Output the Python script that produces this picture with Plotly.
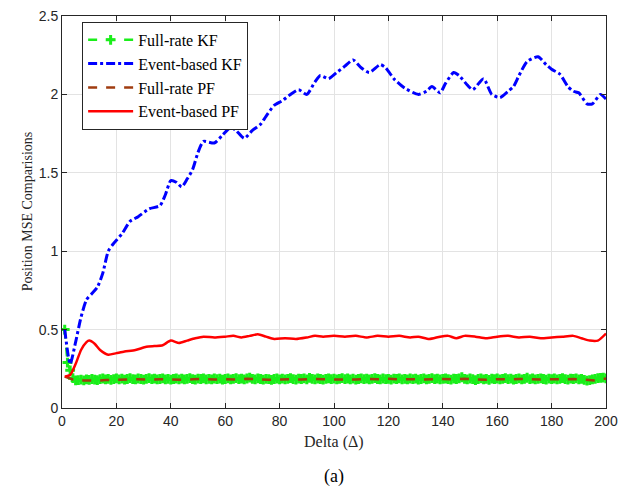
import plotly.graph_objects as go

# ---- data ----
x_fkf = list(range(1, 201))
y_fkf = [
    0.50, 0.29, 0.24, 0.19, 0.176, 0.178, 0.181, 0.176, 0.183, 0.179, 0.185, 0.181, 0.178, 0.184, 0.188, 0.182, 0.186, 0.180, 0.184, 0.189,
    0.183, 0.187, 0.181, 0.185, 0.190, 0.184, 0.182, 0.188, 0.185, 0.181, 0.186, 0.190, 0.184, 0.187, 0.182, 0.185, 0.189, 0.183, 0.186, 0.181,
    0.185, 0.188, 0.183, 0.187, 0.182, 0.186, 0.190, 0.184, 0.181, 0.187, 0.185, 0.189, 0.183, 0.186, 0.182, 0.188, 0.184, 0.187, 0.181, 0.185,
    0.189, 0.183, 0.186, 0.190, 0.184, 0.187, 0.182, 0.188, 0.194, 0.186, 0.183, 0.189, 0.185, 0.181, 0.186, 0.184, 0.179, 0.185, 0.188, 0.183,
    0.187, 0.182, 0.186, 0.190, 0.184, 0.181, 0.187, 0.185, 0.189, 0.183, 0.192, 0.186, 0.182, 0.188, 0.185, 0.181, 0.186, 0.189, 0.184, 0.187,
    0.182, 0.186, 0.190, 0.184, 0.188, 0.183, 0.187, 0.181, 0.185, 0.189, 0.184, 0.187, 0.182, 0.186, 0.190, 0.185, 0.183, 0.188, 0.184, 0.186,
    0.181, 0.187, 0.185, 0.189, 0.183, 0.186, 0.182, 0.188, 0.184, 0.187, 0.181, 0.185, 0.189, 0.183, 0.186, 0.190, 0.184, 0.187, 0.182, 0.186,
    0.188, 0.184, 0.181, 0.187, 0.185, 0.189, 0.196, 0.186, 0.182, 0.188, 0.184, 0.178, 0.185, 0.189, 0.183, 0.186, 0.180, 0.187, 0.184, 0.188,
    0.182, 0.186, 0.190, 0.184, 0.187, 0.181, 0.185, 0.189, 0.183, 0.186, 0.193, 0.184, 0.188, 0.182, 0.186, 0.189, 0.185, 0.181, 0.187, 0.184,
    0.188, 0.183, 0.186, 0.190, 0.184, 0.181, 0.187, 0.185, 0.189, 0.183, 0.186, 0.179, 0.175, 0.178, 0.182, 0.186, 0.190, 0.192, 0.194, 0.189,
]

x_ekf = [1, 3, 5, 7, 9, 11, 13, 15, 17, 19, 22, 25, 28, 32, 36, 38, 40, 42, 44, 46, 48, 50, 52, 56, 59,
         62, 64, 67, 70, 73, 75, 78, 81, 84, 87, 90, 93, 95, 98, 101, 104, 107, 110, 113, 117, 119,
         122, 126, 131, 134, 136, 139, 141, 144, 146, 149, 151, 155, 158, 161, 164, 166, 168, 171,
         175, 178, 180, 183, 186, 188, 190, 193, 195, 198, 200]
y_ekf = [0.50, 0.28, 0.42, 0.58, 0.69, 0.73, 0.77, 0.86, 1.00, 1.05, 1.11, 1.19, 1.22, 1.27, 1.29, 1.36, 1.45, 1.44, 1.41, 1.46, 1.52, 1.63, 1.70, 1.69, 1.74,
         1.79, 1.77, 1.72, 1.77, 1.81, 1.86, 1.93, 1.96, 2.00, 2.03, 2.00, 2.08, 2.12, 2.10, 2.14, 2.18, 2.22, 2.17, 2.14, 2.19, 2.17,
         2.10, 2.04, 2.00, 2.02, 2.05, 2.01, 2.07, 2.14, 2.12, 2.06, 2.03, 2.10, 2.00, 1.98, 2.02, 2.05, 2.12, 2.21,
         2.24, 2.19, 2.16, 2.13, 2.05, 2.02, 2.01, 1.94, 1.94, 2.00, 1.97]

x_fpf = [1] + list(range(4, 201, 4))
y_fpf = [0.200, 0.182, 0.176, 0.174, 0.178, 0.181, 0.180, 0.183, 0.181, 0.184, 0.182, 0.180, 0.183, 0.185, 0.182, 0.184, 0.181,
         0.186, 0.183, 0.180, 0.182, 0.184, 0.181, 0.185, 0.183, 0.182, 0.184, 0.181, 0.185, 0.183, 0.186, 0.182, 0.184, 0.181,
         0.183, 0.185, 0.182, 0.186, 0.182, 0.180, 0.184, 0.182, 0.185, 0.183, 0.181, 0.184, 0.182, 0.185, 0.180, 0.176, 0.188]

x_epf = [1, 3, 5, 7, 9, 10, 12, 14, 17, 20, 23, 27, 31, 34, 37, 40, 43, 46, 49, 52, 56, 60, 63, 66, 69, 72, 75, 78,
         82, 86, 90, 93, 96, 100, 104, 108, 112, 116, 120, 124, 128, 131, 135, 139, 142, 145, 148, 152, 156, 160,
         164, 168, 172, 176, 180, 184, 188, 191, 194, 197, 200]
y_epf = [0.20, 0.21, 0.28, 0.37, 0.42, 0.43, 0.41, 0.37, 0.34, 0.35, 0.36, 0.37, 0.39, 0.395, 0.40, 0.43, 0.415, 0.43, 0.445, 0.455, 0.45, 0.455, 0.46, 0.45, 0.46, 0.47, 0.455, 0.44,
         0.445, 0.44, 0.45, 0.46, 0.455, 0.46, 0.455, 0.46, 0.45, 0.46, 0.455, 0.46, 0.45, 0.455, 0.44, 0.455, 0.46, 0.445, 0.46, 0.455, 0.445, 0.455,
         0.46, 0.45, 0.455, 0.445, 0.45, 0.455, 0.46, 0.445, 0.43, 0.43, 0.475]

x_ticks = [0, 20, 40, 60, 80, 100, 120, 140, 160, 180, 200]
y_ticks = [0, 0.5, 1, 1.5, 2, 2.5]
y_ticklabels = ["0", "0.5", "1", "1.5", "2", "2.5"]

SERIF = "Liberation Serif, Times New Roman, serif"
SANS = "Liberation Sans, Arial, sans-serif"

fig = go.Figure()
fig.add_trace(go.Scatter(
    x=x_fkf, y=y_fkf, name="Full-rate KF", mode="lines+markers",
    line=dict(color="#1aee1a", width=2.5, dash="dash"),
    marker=dict(symbol="cross-thin", size=7, color="#1aee1a", line=dict(color="#1aee1a", width=3)),
))
fig.add_trace(go.Scatter(
    x=x_ekf, y=y_ekf, name="Event-based KF", mode="lines",
    line=dict(color="#0000ff", width=3, dash="dashdot", shape="spline", smoothing=0.6),
))
fig.add_trace(go.Scatter(
    x=x_fpf, y=y_fpf, name="Full-rate PF", mode="lines",
    line=dict(color="#a03c10", width=2.5, dash="dash"),
))
fig.add_trace(go.Scatter(
    x=x_epf, y=y_epf, name="Event-based PF", mode="lines",
    line=dict(color="#ff0000", width=2.5, shape="spline", smoothing=0.6),
))

axis_common = dict(
    showline=True, linecolor="#262626", linewidth=1, mirror="ticks",
    ticks="inside", ticklen=5, tickcolor="#262626",
    showgrid=True, gridcolor="#e3e3e3", gridwidth=1, zeroline=False,
    tickfont=dict(family=SANS, size=14, color="#262626"),
    ticklabeloverflow="allow",
)

fig.update_layout(
    width=639, height=495,
    margin=dict(l=62, r=33, t=8, b=87),
    plot_bgcolor="white", paper_bgcolor="white",
    showlegend=True,
    legend=dict(
        x=0.037, y=0.985, xanchor="left", yanchor="top",
        bgcolor="white", bordercolor="#262626", borderwidth=1,
        font=dict(family=SERIF, size=16, color="#000000"),
        tracegroupgap=0, itemwidth=45,
    ),
    xaxis=dict(range=[0, 200], tickvals=x_ticks, **axis_common),
    yaxis=dict(range=[0, 2.5], tickvals=y_ticks, ticktext=y_ticklabels, **axis_common),
    annotations=[
        dict(text="Delta (Δ)", x=0.5, y=-0.0875, xref="paper", yref="paper",
             xanchor="center", yanchor="middle", showarrow=False,
             font=dict(family=SERIF, size=16, color="#262626")),
        dict(text="Position MSE Comparisions", x=-0.064, y=0.5, xref="paper", yref="paper",
             xanchor="center", yanchor="middle", textangle=-90, showarrow=False,
             font=dict(family=SERIF, size=14, color="#262626")),
        dict(text="(a)", x=0.5, y=-0.175, xref="paper", yref="paper",
             xanchor="center", yanchor="middle", showarrow=False,
             font=dict(family=SERIF, size=18, color="#000000")),
    ],
)

fig.write_html("out.html")
